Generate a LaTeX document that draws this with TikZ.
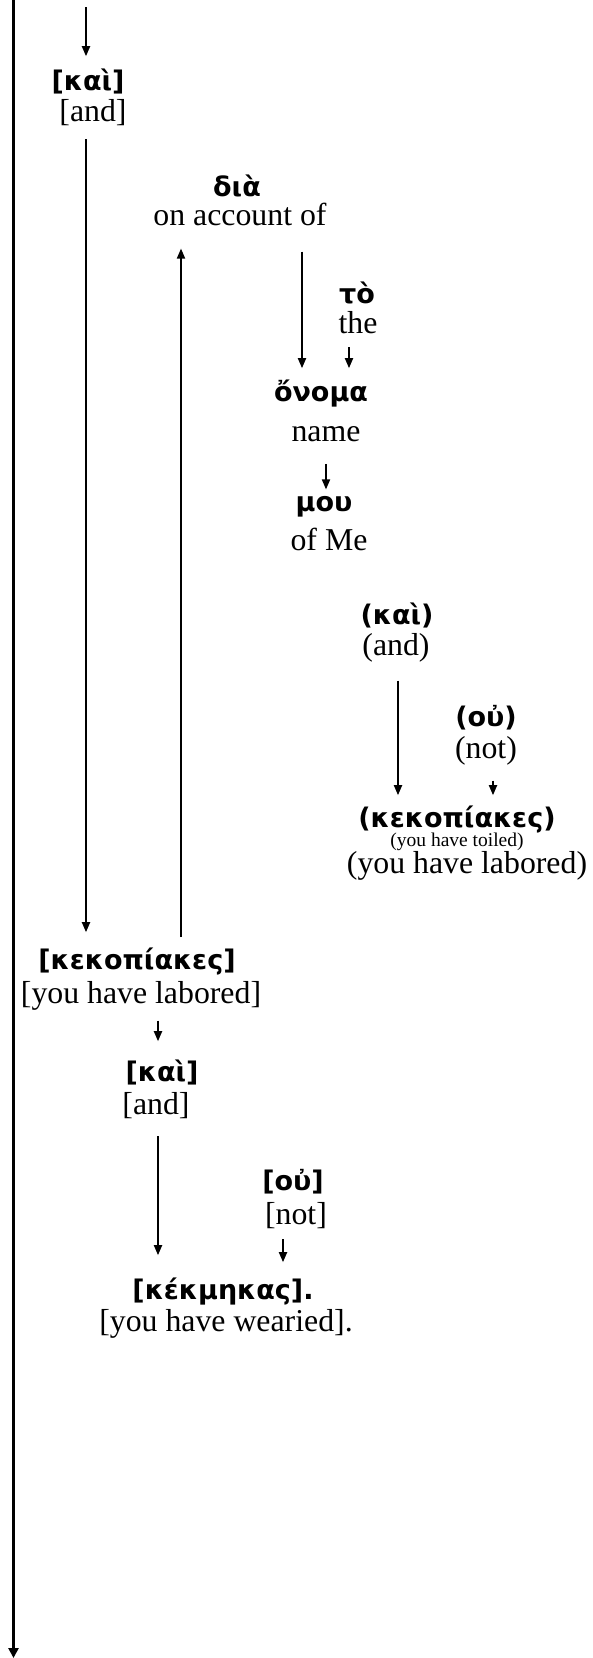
\documentclass[tikz,border=0pt]{standalone}
\usepackage{fontspec}
\setmainfont{Liberation Serif}
\newfontfamily\grk{DejaVu Sans}
\usetikzlibrary{arrows.meta}
\tikzset{
  gr/.style={inner sep=0pt, font=\grk\bfseries\fontsize{27}{30}\selectfont},
  en/.style={inner sep=0pt, font=\fontsize{31.8}{34}\selectfont},
  ensmall/.style={inner sep=0pt, font=\fontsize{19.5}{22}\selectfont},
  arr/.style={line width=1.8pt, -{Triangle[length=10pt,width=8pt]}},
  mainln/.style={line width=2.8pt, -{Triangle[length=10pt,width=10pt]}}
}
\begin{document}
\begin{tikzpicture}[x=1pt,y=-1pt]
\useasboundingbox (0,0) rectangle (592,1658);
% nodes
\node[gr] (kai1) at (88,81) {[καὶ]};
\node[en] (and1) at (93,113) {[and]};
\node[gr] (dia) at (237,186) {διὰ};
\node[en] (acc) at (240,214) {on account of};
\node[gr] (to) at (357,293) {τὸ};
\node[en] (the) at (358,323) {the};
\node[gr] (onoma) at (321,394) {ὄνομα};
\node[en] (name) at (326,434) {name};
\node[gr] (mou) at (324,507) {μου};
\node[en] (ofme) at (329,539) {of Me};
\node[gr] (kai2) at (397,615) {(καὶ)};
\node[en] (and2) at (396,648) {(and)};
\node[gr] (ou1) at (486,718) {(οὐ)};
\node[en] (not1) at (486,751) {(not)};
\node[gr] (kek2) at (457,819) {(κεκοπίακες)};
\node[ensmall] (toiled) at (457,842) {(you have toiled)};
\node[en] (lab2) at (467,866) {(you have labored)};
\node[gr] (kek1) at (137,961) {[κεκοπίακες]};
\node[en] (lab1) at (141,996) {[you have labored]};
\node[gr] (kai3) at (162,1072) {[καὶ]};
\node[en] (and3) at (156,1106) {[and]};
\node[gr] (ou2) at (293,1182) {[οὐ]};
\node[en] (not2) at (296,1216) {[not]};
\node[gr] (kekm) at (223,1292) {[κέκμηκας].};
\node[en] (wear) at (226,1324) {[you have wearied].};
% columns
\coordinate (top) at (86,7);
\coordinate (mtop) at (13.5,0);
\coordinate (mbot) at (13.5,1658);
\coordinate (cA) at (86,0);
\coordinate (cB) at (181,0);
\coordinate (cC) at (302,0);
\coordinate (cD) at (349,0);
\coordinate (cE) at (326,0);
\coordinate (cF) at (398,0);
\coordinate (cG) at (493,0);
\coordinate (cH) at (158,0);
\coordinate (cI) at (283,0);
% connectors
\draw[mainln] (mtop) -- (mbot);
\draw[arr, shorten >=12pt] (top) -- (cA |- kai1.north);
\draw[arr, shorten <=13pt, shorten >=15pt] (cA |- and1.south) -- (cA |- kek1.north);
\draw[arr, shorten <=10pt, shorten >=23pt] (cB |- kek1.north) -- (cB |- acc.south);
\draw[arr, shorten <=26pt, shorten >=12pt] (cC |- acc.south) -- (cC |- onoma.north);
\draw[arr, shorten <=13pt, shorten >=12pt] (cD |- the.south) -- (cD |- onoma.north);
\draw[arr, shorten <=22pt, shorten >=7pt] (cE |- name.south) -- (cE |- mou.north);
\draw[arr, shorten <=18pt, shorten >=10pt] (cF |- and2.south) -- (cF |- kek2.north);
\draw[arr, shorten <=15pt, shorten >=10pt] (cG |- not1.south) -- (cG |- kek2.north);
\draw[arr, shorten <=10pt, shorten >=18pt] (cH |- lab1.south) -- (cH |- kai3.north);
\draw[arr, shorten <=17pt, shorten >=23pt] (cH |- and3.south) -- (cH |- kekm.north);
\draw[arr, shorten <=10pt, shorten >=16pt] (cI |- not2.south) -- (cI |- kekm.north);
\end{tikzpicture}
\end{document}
